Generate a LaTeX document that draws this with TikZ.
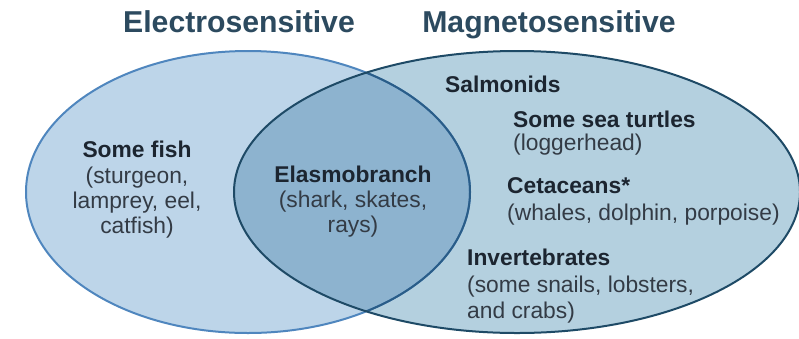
\documentclass[tikz,border=0pt]{standalone}
\usepackage{fontspec}
\setmainfont{Liberation Sans}
\definecolor{leftfill}{HTML}{BDD5E9}
\definecolor{rightfill}{HTML}{B4D0DF}
\definecolor{midfill}{HTML}{8DB3CF}
\definecolor{leftline}{HTML}{4F86BE}
\definecolor{rightline}{HTML}{1E4A66}
\definecolor{innerline}{HTML}{2A5D88}
\definecolor{titlecol}{HTML}{2C4A5F}
\definecolor{textcol}{HTML}{1C2530}
\tikzset{
  titletext/.style={font=\fontsize{30.2}{33}\selectfont\bfseries, text=titlecol, inner sep=0pt, anchor=base},
  headc/.style={font=\fontsize{22.8}{25}\selectfont\bfseries, text=textcol, inner sep=0pt, anchor=base},
  bodyc/.style={font=\fontsize{22.8}{25}\selectfont, text=textcol!90!white, inner sep=0pt, anchor=base},
  headl/.style={headc, anchor=base west},
  bodyl/.style={bodyc, anchor=base west},
}
\begin{document}
\begin{tikzpicture}[x=1pt,y=-1pt]
\useasboundingbox (0,0) rectangle (799,338);
\fill[white] (0,0) rectangle (799,338);
% fills
\fill[leftfill] (248,192) ellipse [x radius=222, y radius=141];
\fill[rightfill] (517,192) ellipse [x radius=283, y radius=141];
\begin{scope}
  \clip (248,192) ellipse [x radius=222, y radius=141];
  \fill[midfill] (517,192) ellipse [x radius=283, y radius=141];
\end{scope}
% borders
\draw[leftline, line width=2pt] (248,192) ellipse [x radius=222, y radius=141];
\begin{scope}
  \clip (517,192) ellipse [x radius=283, y radius=141];
  \draw[innerline, line width=2pt] (248,192) ellipse [x radius=222, y radius=141];
\end{scope}
\draw[rightline, line width=2pt] (517,192) ellipse [x radius=283, y radius=141];
% titles
\node[titletext] (t1) at (239,32) {Electrosensitive};
\node[titletext] (t2) at (549,32) {Magnetosensitive};
% left set
\node[headc] (f1) at (137,157) {Some fish};
\node[bodyc] (f2) at (137,183) {(sturgeon,};
\node[bodyc] (f3) at (137,208) {lamprey, eel,};
\node[bodyc] (f4) at (137,233) {catfish)};
% intersection
\node[headc] (e1) at (353,182) {Elasmobranch};
\node[bodyc] (e2) at (353,207) {(shark, skates,};
\node[bodyc] (e3) at (353,232) {rays)};
% right set
\node[headl] (s1) at (445,92) {Salmonids};
\node[headl] (s2) at (513,127) {Some sea turtles};
\node[bodyl] (s3) at (513,150) {(loggerhead)};
\node[headl] (c1) at (507,193) {Cetaceans*};
\node[bodyl] (c2) at (507,220) {(whales, dolphin, porpoise)};
\node[headl] (i1) at (467,265) {Invertebrates};
\node[bodyl] (i2) at (467,292) {(some snails, lobsters,};
\node[bodyl] (i3) at (467,318) {and crabs)};
\end{tikzpicture}
\end{document}
